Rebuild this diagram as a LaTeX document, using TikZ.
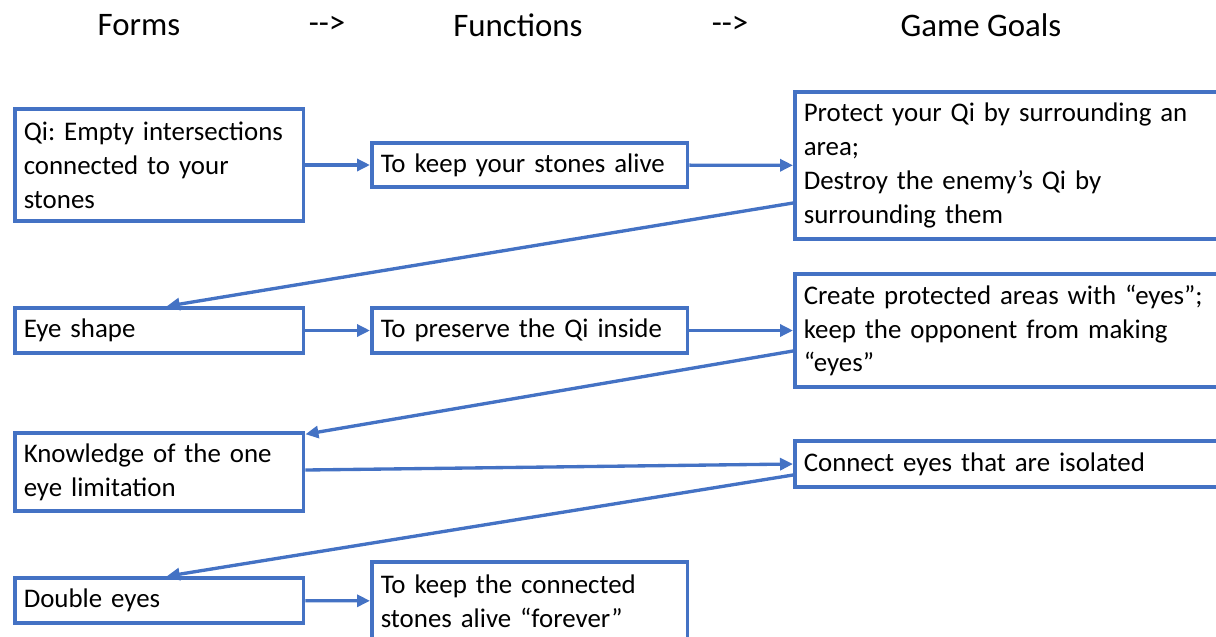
\documentclass[tikz,border=0pt]{standalone}
\usepackage{fontspec}
\setmainfont{Carlito}
\usetikzlibrary{arrows.meta,positioning}
\definecolor{goblue}{HTML}{4472C4}
\newcommand\boxfont{\fontsize{15.3pt}{19.3pt}\selectfont\frenchspacing\hyphenpenalty=10000\relax}

\begin{document}
\begin{tikzpicture}[x=0.02cm, y=-0.02cm,
        box/.style={draw=goblue, line width=2pt, anchor=west, align=left,
            inner xsep=0.18cm, inner ysep=0pt, font=\boxfont},
        formbox/.style={box, minimum width=5.78cm, text width=5.42cm},
        funcbox/.style={box, minimum width=6.32cm, text width=5.96cm},
        goalbox/.style={box, minimum width=8.8cm, text width=8.44cm},
        head/.style={font=\fontsize{18.7pt}{22pt}\selectfont},
        link/.style={-{Triangle[length=0.26cm, width=0.24cm]}, draw=goblue, line width=1.9pt}]
        \useasboundingbox (0, 0) rectangle (1216, 636);
        \clip (0, 0) rectangle (1216, 636);

        % column heads
        \node (hForms) [head] at (139, 25) {Forms};
        \node (hArrA) [head] at (327, 25) {-{}->};
        \node (hFunc) [head] at (518, 25) {Functions};
        \node (hArrB) [head] at (730, 25) {-{}->};
        \node (hGoals) [head] at (981, 25) {Game Goals};

        % row 1
        \node (Q1) [formbox, minimum height=2.24cm] at (13, 165) {Qi: Empty intersections\\connected to your\\stones};
        \node (K1) [funcbox, minimum height=0.88cm] at (370, 165) {To keep your stones alive};
        \node (G1) [goalbox, minimum height=2.94cm] at (793, 165.5) {Protect your Qi by surrounding an\\area;\\Destroy the enemy’s Qi by\\surrounding them};

        % row 2
        \node (Q2) [formbox, minimum height=0.9cm] at (13, 330.5) {Eye shape};
        \node (K2) [funcbox, minimum height=0.9cm] at (370, 330.5) {To preserve the Qi inside};
        \node (G2) [goalbox, minimum height=2.26cm] at (793, 330.5) {Create protected areas with “eyes”;\\keep the opponent from making\\“eyes”};

        % row 3
        \node (Q3) [formbox, minimum height=1.56cm] at (13, 472) {Knowledge of the one\\eye limitation};
        \node (G3) [goalbox, minimum height=0.92cm] at (793, 464) {Connect eyes that are isolated};

        % row 4
        \node (Q4) [formbox, minimum height=0.9cm] at (13, 600.5) {Double eyes};
        \node (K4) [funcbox, minimum height=1.56cm] at (370, 601) {To keep the connected\\stones alive “forever”};

        \draw[link] (Q1) -- (K1);
        \draw[link] (K1) -- (G1);
        \draw[link] ([yshift=-0.75cm]G1.west) -- ([xshift=0.15cm]Q2.north);
        \draw[link] (Q2) -- (K2);
        \draw[link] (K2) -- (G2);
        \draw[link] ([yshift=-0.41cm]G2.west) -- ([yshift=-0.06cm]Q3.north east);
        \draw[link] ([yshift=0.04cm]Q3.east) -- (G3.west);
        \draw[link] ([yshift=-0.22cm]G3.west) -- ([xshift=0.15cm]Q4.north);
        \draw[link] (Q4) -- (K4);
    \end{tikzpicture}
\end{document}
